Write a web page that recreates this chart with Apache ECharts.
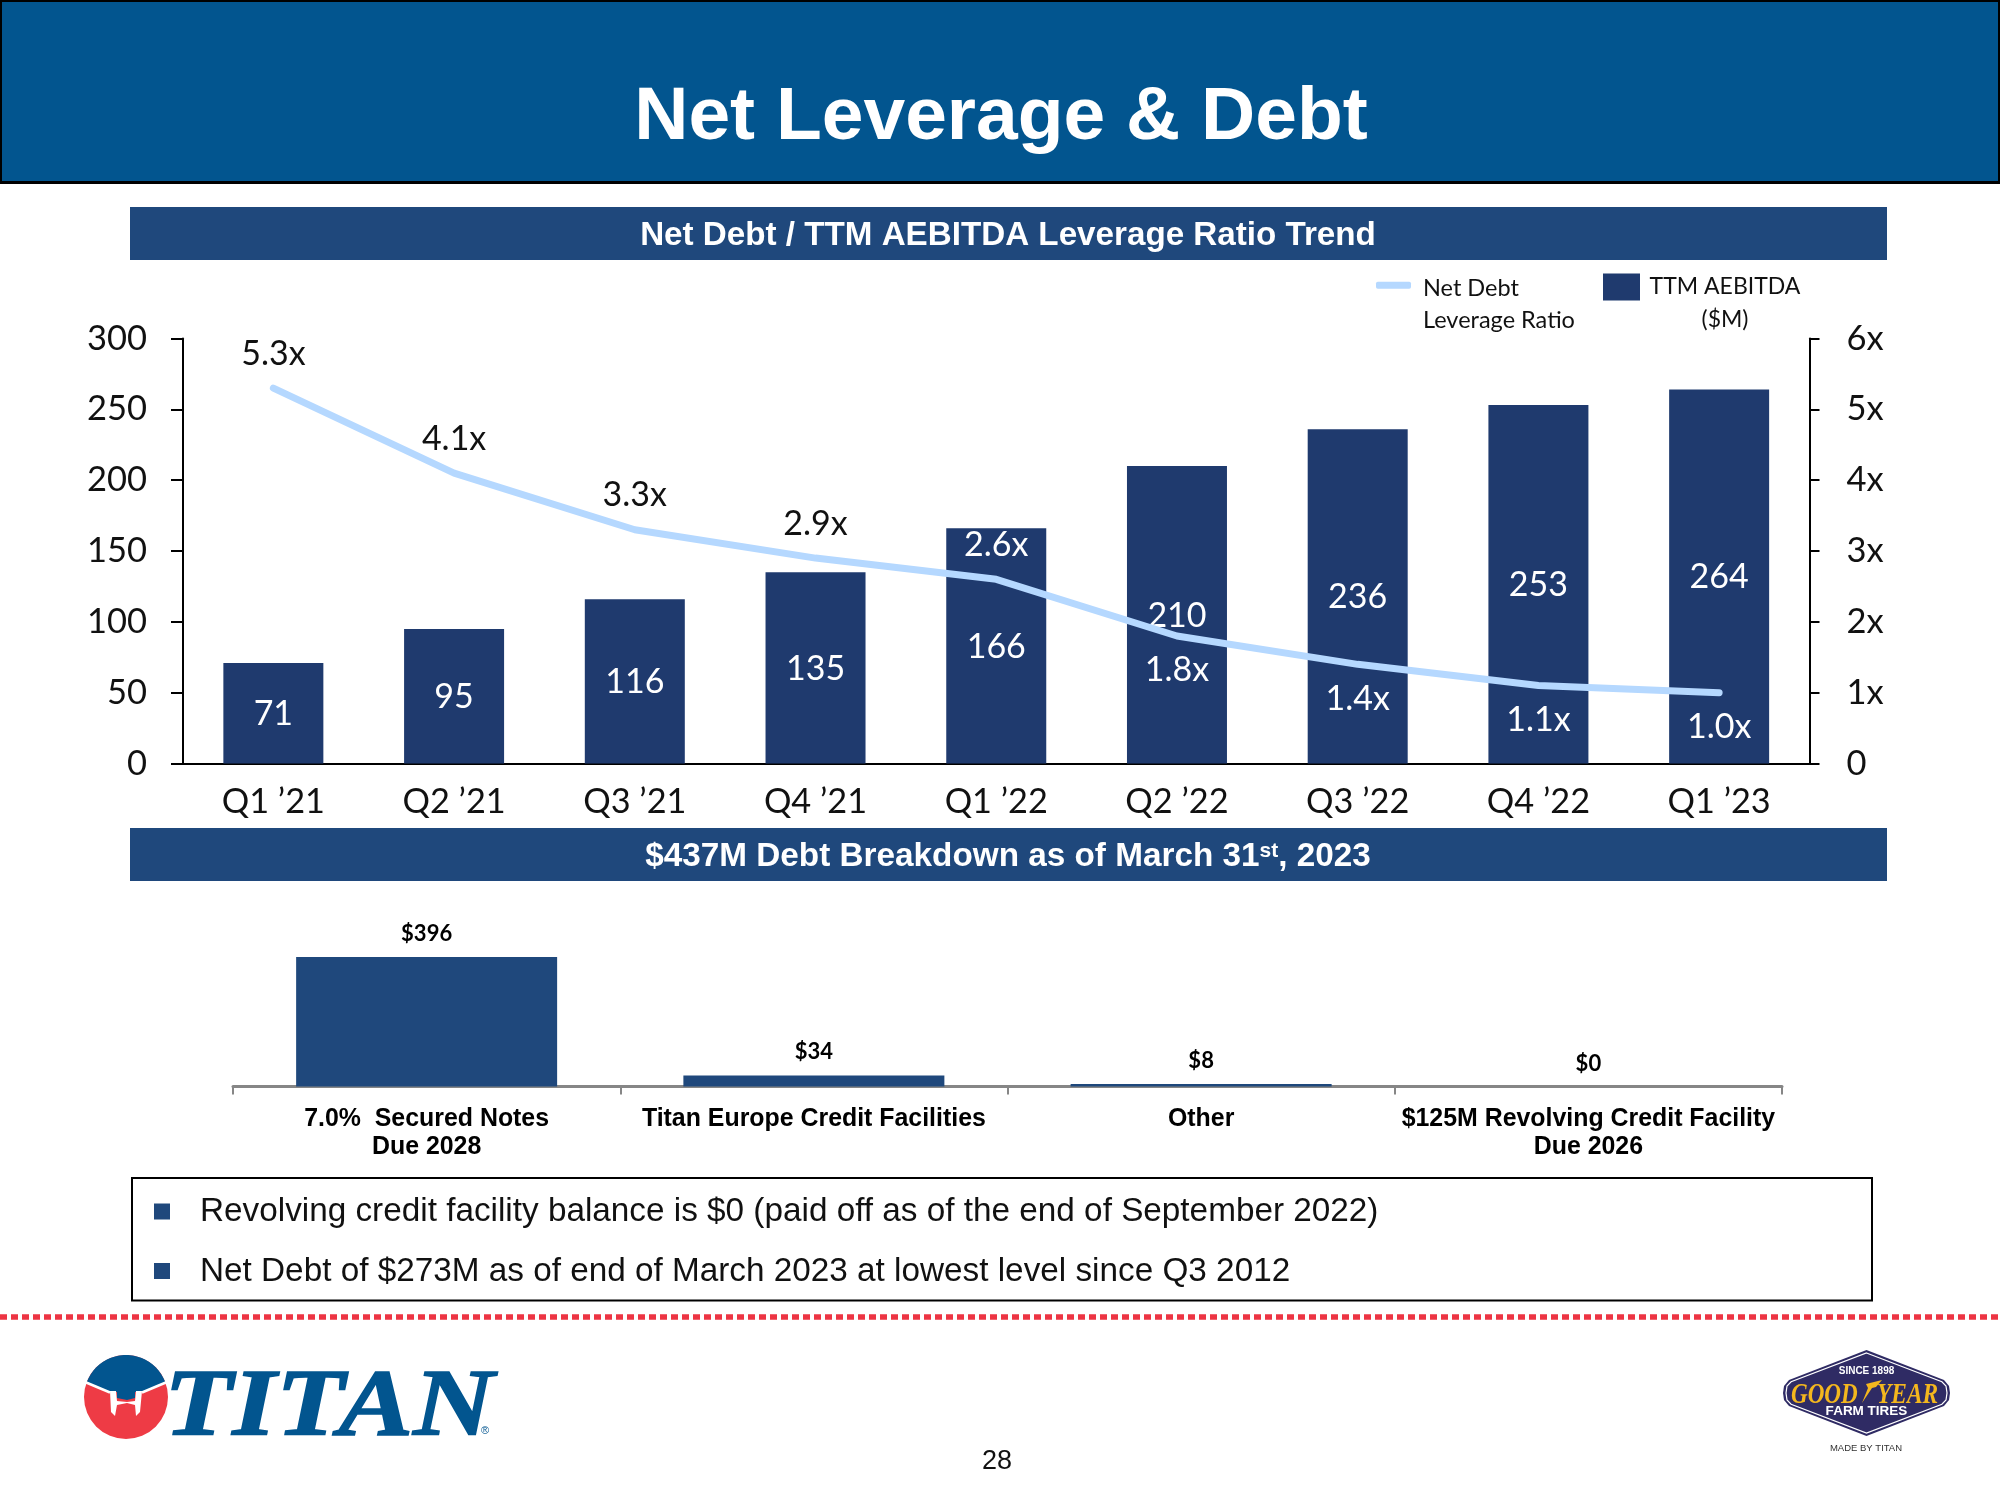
<!DOCTYPE html>
<html>
<head>
<meta charset="utf-8">
<style>html,body{margin:0;padding:0;background:#fff}#c{width:2000px;height:1500px}</style>
<script src="https://cdn.jsdelivr.net/npm/echarts@6/dist/echarts.min.js"></script>
</head>
<body>
<div id="c"></div>
<script>
const quarters = ["Q1 ’21","Q2 ’21","Q3 ’21","Q4 ’21","Q1 ’22","Q2 ’22","Q3 ’22","Q4 ’22","Q1 ’23"];
const ebitda = [71,95,116,135,166,210,236,253,264];
const leverage = [5.3,4.1,3.3,2.9,2.6,1.8,1.4,1.1,1.0];
const debtCategories = ["7.0%  Secured Notes\nDue 2028","Titan Europe Credit Facilities","Other","$125M Revolving Credit Facility\nDue 2026"];
const debtValues = [396,34,8,0];
const pageTitle = "Net Leverage & Debt";
const section1 = "Net Debt / TTM AEBITDA Leverage Ratio Trend";
const bullets = ["Revolving credit facility balance is $0 (paid off as of the end of September 2022)","Net Debt of $273M as of end of March 2023 at lowest level since Q3 2012"];

const CAL = 'Lato', ARI = '"Liberation Sans"', SER = '"Liberation Serif"';
const NAVY = '#1f3a6e', HEAD = '#1f487c', LIGHT = '#b5d8ff', BLUE = '#02558f';

function rect(x,y,w,h,fill,stroke,lw){return {type:'rect',silent:true,shape:{x,y,width:w,height:h},style:{fill:fill,stroke:stroke||null,lineWidth:lw||0}};}
function text(t,x,y,font,fill,align,sx){return {type:'text',silent:true,x,y,scaleX:sx||1,style:{text:t,font,fill,textAlign:align||'center',textVerticalAlign:'middle'}};}
function poly(points,fill){return {type:'polygon',silent:true,shape:{points},style:{fill}};}
function pline(points,stroke,lw){return {type:'polyline',silent:true,shape:{points},style:{fill:null,stroke,lineWidth:lw}};}

/* top cap of the Titan emblem */
const capPts = [];
for (let a = 201; a <= 339; a += 6) {
  capPts.push([126 + 42*Math.cos(a*Math.PI/180), 1397 + 42*Math.sin(a*Math.PI/180)]);
}
const capShape = capPts.concat([[142,1392],[135,1392],[135,1398],[127,1400],[117,1398],[117,1392],[110,1392]]);
const badge = (i)=>[[1866.5,1350+i],[1944-i*0.7,1380+i*0.6],[1949-i,1386],[1950-i,1393],[1949-i,1400],[1944-i*0.7,1406-i*0.6],[1866.5,1436-i],[1789+i*0.7,1406-i*0.6],[1784+i,1400],[1783+i,1393],[1784+i,1386],[1789+i*0.7,1380+i*0.6]];

const graphics = [
  rect(1,1,1998,181,BLUE,'#000',2),
  rect(0,181,2000,3,'#000'),
  text(pageTitle,1001,118,'bold 75px '+ARI,'#fff'),
  rect(130,207,1757,53,HEAD),
  text(section1,1008,236,'bold 33.2px '+ARI,'#fff'),
  rect(130,828,1757,53,HEAD),
  {type:'text',silent:true,x:1008,y:857,style:{text:'{m|$437M Debt Breakdown as of March 31}{s|st}{m|, 2023}',textAlign:'center',textVerticalAlign:'middle',fill:'#fff',
    rich:{m:{font:'bold 33.3px '+ARI,fill:'#fff'},s:{font:'bold 21px '+ARI,fill:'#fff',padding:[0,0,12,0]}}}},
  rect(132,1178,1740,122.5,'#fff','#000',2),
  rect(154,1203.5,16,16,HEAD),
  rect(154,1263,16,16,HEAD),
  text(bullets[0],200,1212,'33.3px '+ARI,'#111','left'),
  text(bullets[1],200,1272,'33.3px '+ARI,'#111','left'),
  {type:'line',silent:true,shape:{x1:0,y1:1317,x2:2000,y2:1317},style:{stroke:'#ed3443',lineWidth:5.5,lineDash:[7,4]}},
  text('28',997,1462,'27px '+ARI,'#111'),
  /* Titan logo */
  {type:'circle',silent:true,shape:{cx:126,cy:1397,r:42},style:{fill:'#ee3b45'}},
  poly(capShape,BLUE),
  pline([[85,1382],[110,1392.5]],'#fff',2.5),
  pline([[167,1382],[142,1392.5]],'#fff',2.5),
  poly([[110,1391],[116,1391],[117,1401],[127,1402],[135,1401],[136,1391],[142,1391],[140,1412],[136,1416],[135,1405],[127,1403],[117,1405],[115,1416],[111,1412]],'#fff'),
  {type:'text',silent:true,x:164,y:1410,scaleX:1.18,style:{text:'TITAN',font:'italic bold 95px '+SER,fill:BLUE,stroke:BLUE,lineWidth:1.5,textAlign:'left',textVerticalAlign:'middle'}},
  text('®',485,1431,'11px '+ARI,BLUE),
  /* Goodyear logo */
  poly(badge(0),'#2f2b64'),
  {type:'polygon',silent:true,shape:{points:badge(3)},style:{fill:'none',stroke:'#fff',lineWidth:1.2}},
  text('SINCE 1898',1866.5,1371,'bold 10px '+ARI,'#fff'),
  text('GOOD',1791,1395,'italic bold 30px '+SER,'#f4b71e','left',0.77),
  text('YEAR',1877,1395,'italic bold 30px '+SER,'#f4b71e','left',0.78),
  poly([[1862,1403],[1868,1388],[1866,1384],[1882,1380],[1876,1387],[1872,1388]],'#f4b71e'),
  text('FARM TIRES',1866.5,1411,'bold 13.5px '+ARI,'#fff'),
  text('MADE BY TITAN',1866,1448,'9.5px '+ARI,'#333')
];

const lineData = leverage.map(function(v){
  return {value:v,label:{position:(v>=2.6)?'top':'bottom',color:(v<=2.6)?'#fff':'#111'}};
});

const option = {
  animation:false,
  backgroundColor:'#fff',
  textStyle:{fontFamily:CAL},
  graphic:{elements:graphics},
  legend:[
    {data:['Net Debt Leverage Ratio'],left:1376,top:240.75,padding:0,itemWidth:35,itemHeight:7,selectedMode:false,icon:'roundRect',
     formatter:'{b| }\n{a|Net Debt}\n{a|Leverage Ratio}',
     textStyle:{padding:[0,0,0,7],rich:{a:{fontFamily:CAL,fontSize:23.5,lineHeight:32.5,color:'#111'},b:{fontSize:23.5,lineHeight:38.5}}}},
    {data:['TTM AEBITDA ($M)'],left:1603,top:243,padding:0,itemWidth:37,itemHeight:27,selectedMode:false,icon:'rect',
     formatter:'{a| }\n{a|TTM AEBITDA}\n{a|($M)}',
     textStyle:{padding:[0,0,0,7],rich:{a:{fontFamily:CAL,fontSize:23,lineHeight:32.5,color:'#111',width:146,align:'center'}}}}
  ],
  grid:[
    {left:183,width:1626.5,top:338.5,height:425},
    {left:233,width:1549,top:957,height:129.5}
  ],
  xAxis:[
    {type:'category',gridIndex:0,data:quarters,axisTick:{show:false},axisLine:{lineStyle:{color:'#000',width:2}},
     axisLabel:{fontFamily:CAL,fontSize:34.3,color:'#111',margin:21,interval:0}},
    {type:'category',gridIndex:1,data:debtCategories,axisTick:{show:true,length:8,lineStyle:{color:'#868686',width:2}},
     axisLine:{lineStyle:{color:'#868686',width:3}},
     axisLabel:{fontFamily:ARI,fontWeight:'bold',fontSize:24.9,lineHeight:28.5,color:'#000',margin:18,interval:0}}
  ],
  yAxis:[
    {type:'value',gridIndex:0,min:0,max:300,interval:50,position:'left',splitLine:{show:false},
     axisLine:{show:true,lineStyle:{color:'#000',width:2}},axisTick:{show:true,length:12,lineStyle:{color:'#000',width:2}},
     axisLabel:{fontFamily:CAL,fontSize:34.5,color:'#111',margin:36}},
    {type:'value',gridIndex:0,min:0,max:6,interval:1,position:'right',splitLine:{show:false},
     axisLine:{show:true,lineStyle:{color:'#000',width:2}},axisTick:{show:true,length:10,lineStyle:{color:'#000',width:2}},
     axisLabel:{fontFamily:CAL,fontSize:34.5,color:'#111',margin:37,formatter:function(v){return v===0?'0':v+'x';}}},
    {type:'value',gridIndex:1,min:0,max:396,show:false,splitLine:{show:false}}
  ],
  series:[
    {name:'TTM AEBITDA ($M)',type:'bar',xAxisIndex:0,yAxisIndex:0,data:ebitda,barWidth:100,itemStyle:{color:NAVY},
     label:{show:true,position:'inside',offset:[0,1],fontFamily:CAL,fontSize:34,color:'#fff'}},
    {name:'Net Debt Leverage Ratio',type:'line',xAxisIndex:0,yAxisIndex:1,data:lineData,symbol:'circle',symbolSize:1,showSymbol:true,
     lineStyle:{color:LIGHT,width:7,cap:'round'},itemStyle:{color:LIGHT},z:5,
     label:{show:true,fontFamily:CAL,fontSize:34,lineHeight:34,distance:17,formatter:function(p){return p.value.toFixed(1)+'x';}}},
    {name:'Debt',type:'bar',xAxisIndex:1,yAxisIndex:2,data:debtValues,barWidth:261,itemStyle:{color:HEAD},
     label:{show:true,position:'top',distance:12,fontFamily:CAL,fontWeight:'bold',fontSize:22,lineHeight:22,color:'#000',formatter:function(p){return '$'+p.value;}}}
  ]
};
const chart = echarts.init(document.getElementById('c'),null,{renderer:'canvas'});
chart.setOption(option);
</script>
</body>
</html>
